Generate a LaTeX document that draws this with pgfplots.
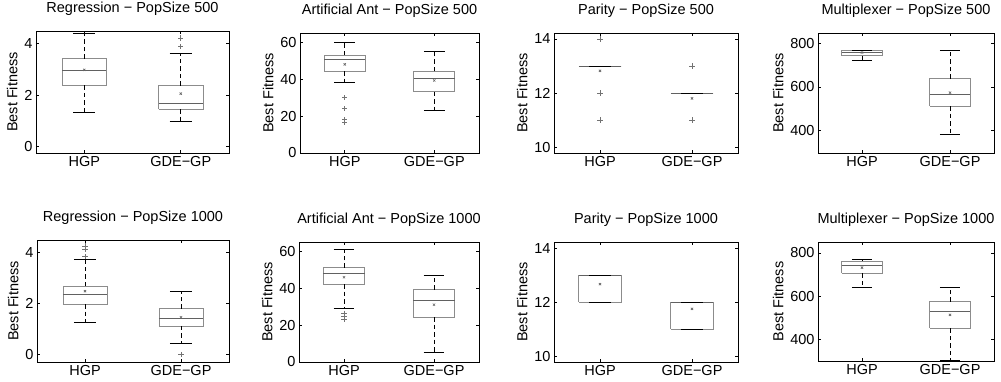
\documentclass[border=0pt]{standalone}
\usepackage{pgfplots}
\pgfplotsset{compat=1.18}
\usepackage{fontspec}
\setmainfont{Liberation Sans}
\newcommand{\fs}{\fontsize{14.5}{16}\selectfont}
\pgfplotsset{
  bp/.style={
    scale only axis,
    anchor=north west,
    xmin=0.5, xmax=2.5,
    xtick={1,2}, xticklabels={HGP, GDE−GP},
    tick align=inside,
    tick pos=both, ticklabel pos=left,
    major tick length=3pt,
    tick style={black, line width=0.6pt},
    axis line style={black, line width=0.9pt},
    ylabel={Best Fitness},
    /pgf/number format/assume math mode=true,
    every tick label/.append style={font=\fs},
    label style={font=\fs},
    title style={font=\fs, at={(0.5,1)}, anchor=base, yshift=13pt},
  },
  bx/.style={black!45, line width=0.8pt, solid, no marks, line join=miter},
  md/.style={black!62, line width=0.9pt, solid, no marks},
  wh/.style={black, line width=0.7pt, dash pattern=on 4.5pt off 3pt, no marks},
  cap/.style={black, line width=0.8pt, solid, no marks},
  outl/.style={only marks, mark=+, mark size=2.6pt, black!55, mark options={line width=0.6pt}},
  avg/.style={only marks, mark=x, mark size=1.6pt, black!60, mark options={line width=0.6pt}},
}
% position macros: box half width 0.23, cap half width 0.115
\newcommand{\setpos}[1]{%
  \ifnum#1=1 \def\XL{0.77}\def\XC{1}\def\XR{1.23}\def\CL{0.885}\def\CR{1.115}%
  \else \def\XL{1.77}\def\XC{2}\def\XR{2.23}\def\CL{1.885}\def\CR{2.115}\fi}
% \bpx{pos}{lower whisker}{lower quartile}{median}{upper quartile}{upper whisker}
\newcommand{\bpx}[6]{\setpos{#1}%
  \addplot[bx] coordinates {(\XL,#3) (\XR,#3) (\XR,#5) (\XL,#5) (\XL,#3)};
  \addplot[md] coordinates {(\XL,#4) (\XR,#4)};
  \addplot[wh] coordinates {(\XC,#5) (\XC,#6)};
  \addplot[wh] coordinates {(\XC,#3) (\XC,#2)};
  \addplot[cap] coordinates {(\CL,#6) (\CR,#6)};
  \addplot[cap] coordinates {(\CL,#2) (\CR,#2)};
}
\begin{document}
\begin{tikzpicture}
\useasboundingbox (0pt,0pt) rectangle (1001pt,-381pt);

% ---------- Row 1 ----------
\begin{axis}[bp, at={(36pt,-31pt)}, width=193pt, height=122pt,
  title={Regression − PopSize 500}, ymin=-0.27, ymax=4.5, ytick={0,2,4}]
\bpx{1}{1.32}{2.37}{2.96}{3.41}{4.39}
\bpx{2}{0.98}{1.45}{1.65}{2.36}{3.62}
\addplot[outl] coordinates {(2,3.90) (2,4.23)};
\addplot[avg] coordinates {(1,2.98) (2,2.05)};
\end{axis}

\begin{axis}[bp, at={(300pt,-33pt)}, width=179pt, height=120pt,
  title={Artificial Ant − PopSize 500}, ymin=0, ymax=65, ytick={0,20,40,60}]
\bpx{1}{38.2}{44.4}{50.5}{52.9}{60}
\bpx{2}{23.3}{33.3}{40.2}{44.2}{55.1}
\addplot[outl] coordinates {(1,30) (1,24) (1,18) (1,16.5)};
\addplot[avg] coordinates {(1,48) (2,39.3)};
\end{axis}

\begin{axis}[bp, at={(554pt,-33pt)}, width=184pt, height=120pt,
  title={Parity − PopSize 500}, ymin=9.78, ymax=14.22, ytick={10,12,14}]
\bpx{1}{13}{13}{13}{13}{13}
\bpx{2}{12}{12}{12}{12}{12}
\addplot[outl] coordinates {(1,14) (1,12) (1,11) (2,13) (2,11)};
\addplot[avg] coordinates {(1,12.82) (2,11.8)};
\end{axis}

\begin{axis}[bp, at={(818pt,-33pt)}, width=176pt, height=120pt,
  title={Multiplexer − PopSize 500}, ymin=295, ymax=848, ytick={400,600,800}]
\bpx{1}{720}{743}{757}{766}{770}
\bpx{2}{383}{511}{564}{638}{766}
\addplot[avg] coordinates {(1,758) (2,573)};
\end{axis}

% ---------- Row 2 ----------
\begin{axis}[bp, at={(37pt,-240pt)}, width=192pt, height=122pt,
  title={Regression − PopSize 1000}, ymin=-0.29, ymax=4.48, ytick={0,2,4}]
\bpx{1}{1.27}{1.97}{2.35}{2.68}{3.74}
\bpx{2}{0.43}{1.12}{1.41}{1.80}{2.47}
\addplot[outl] coordinates {(1,3.84) (1,4.12) (1,4.25) (2,0)};
\addplot[avg] coordinates {(1,2.48) (2,1.46)};
\end{axis}

\begin{axis}[bp, at={(299pt,-242pt)}, width=180pt, height=120pt,
  title={Artificial Ant − PopSize 1000}, ymin=0, ymax=65.1, ytick={0,20,40,60}]
\bpx{1}{29.3}{42.2}{48.2}{51.1}{60.9}
\bpx{2}{5.3}{24.4}{33.5}{39.3}{47.1}
\addplot[outl] coordinates {(1,26.5) (1,24.7) (1,23)};
\addplot[avg] coordinates {(1,46) (2,31.1)};
\end{axis}

\begin{axis}[bp, at={(554pt,-242pt)}, width=184pt, height=120pt,
  title={Parity − PopSize 1000}, ymin=9.78, ymax=14.25, ytick={10,12,14}]
\bpx{1}{12}{12}{13}{13}{13}
\bpx{2}{11}{11}{12}{12}{12}
\addplot[avg] coordinates {(1,12.68) (2,11.76)};
\end{axis}

\begin{axis}[bp, at={(818pt,-242pt)}, width=176pt, height=119pt,
  title={Multiplexer − PopSize 1000}, ymin=299, ymax=851, ytick={400,600,800}]
\bpx{1}{640}{705}{740}{763}{769}
\bpx{2}{304}{450}{529}{575}{640}
\addplot[avg] coordinates {(1,732) (2,513)};
\end{axis}
\end{tikzpicture}
\end{document}
